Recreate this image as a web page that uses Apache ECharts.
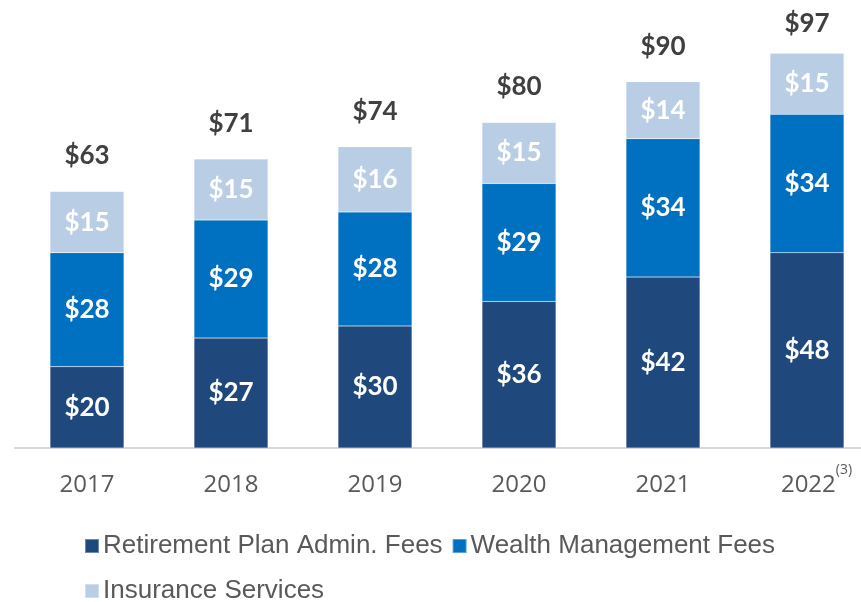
<!DOCTYPE html>
<html>
<head>
<meta charset="utf-8">
<script src="https://cdn.jsdelivr.net/npm/echarts@6/dist/echarts.min.js"></script>
<style>
html, body { margin: 0; padding: 0; background: #fff; overflow: hidden; }
#chart { width: 879px; height: 602px; }
</style>
</head>
<body>
<div id="chart"></div>
<script>
var years = ['2017', '2018', '2019', '2020', '2021', '2022'];
var retirement = [20, 27, 30, 36, 42, 48];
var wealth = [28, 29, 28, 29, 34, 34];
var insurance = [15, 15, 16, 15, 14, 15];
var seriesNames = ['Retirement Plan Admin. Fees', 'Wealth Management Fees', 'Insurance Services'];

var totals = years.map(function (y, i) {
    return retirement[i] + wealth[i] + insurance[i];
});

var myChart = echarts.init(document.getElementById('chart'));

var segLabel = {
    show: true,
    position: 'inside',
    color: '#fff',
    fontFamily: 'Lato',
    fontWeight: 'bold',
    fontSize: 26,
    formatter: function (p) { return '$' + p.value; }
};

function barSeries(name, data, color) {
    return {
        name: name,
        type: 'bar',
        stack: 'rev',
        barWidth: 74,
        data: data,
        itemStyle: { color: color, borderColor: 'rgba(255,255,255,0.35)', borderWidth: 0.5 },
        label: segLabel,
        emphasis: { disabled: true }
    };
}

var legendText = { fontFamily: 'Liberation Sans', fontSize: 26, color: '#595959', padding: [0, 0, 0, -1] };

var option = {
    animation: false,
    grid: { left: 15, top: 41, right: 0, height: 407 },
    legend: [
        {
            data: [seriesNames[0], seriesNames[1]],
            left: 79, top: 528,
            itemWidth: 14, itemHeight: 14, itemGap: 9,
            icon: 'rect',
            textStyle: legendText
        },
        {
            data: [seriesNames[2]],
            left: 79, top: 573,
            itemWidth: 14, itemHeight: 14,
            icon: 'rect',
            textStyle: legendText
        }
    ],
    xAxis: {
        type: 'category',
        data: years,
        axisLine: { lineStyle: { color: '#d9d9d9', width: 2 } },
        axisTick: { show: false },
        axisLabel: {
            interval: 0,
            margin: 15,
            fontFamily: 'Open Sans',
            fontSize: 24,
            lineHeight: 44,
            color: '#595959',
            formatter: function (v) {
                return v === '2022' ? '{y|' + v + '}{sup|(3)}' : v;
            },
            rich: {
                y: { fontSize: 24, fontFamily: 'Open Sans', color: '#595959', lineHeight: 44, padding: [0, 0, 0, 19] },
                sup: { fontSize: 14, fontFamily: 'Open Sans', color: '#595959', lineHeight: 14, verticalAlign: 'top' }
            }
        }
    },
    yAxis: {
        type: 'value',
        min: 0,
        max: 100,
        show: false,
        splitLine: { show: false }
    },
    series: [
        barSeries(seriesNames[0], retirement, '#1f497d'),
        barSeries(seriesNames[1], wealth, '#0070c0'),
        barSeries(seriesNames[2], insurance, '#b9cde5'),
        {
            name: 'total',
            type: 'line',
            data: totals.map(function (t, i) {
                return i === years.length - 1 ? { value: t, label: { distance: 16 } } : t;
            }),
            symbol: 'circle',
            symbolSize: 1,
            showSymbol: true,
            itemStyle: { color: 'transparent' },
            lineStyle: { width: 0, color: 'transparent' },
            silent: true,
            label: {
                show: true,
                position: 'top',
                distance: 22,
                fontFamily: 'Lato',
                fontWeight: 'bold',
                fontSize: 26,
                color: '#404040',
                formatter: function (p) { return '$' + p.value; }
            }
        }
    ]
};

myChart.setOption(option);
</script>
</body>
</html>
